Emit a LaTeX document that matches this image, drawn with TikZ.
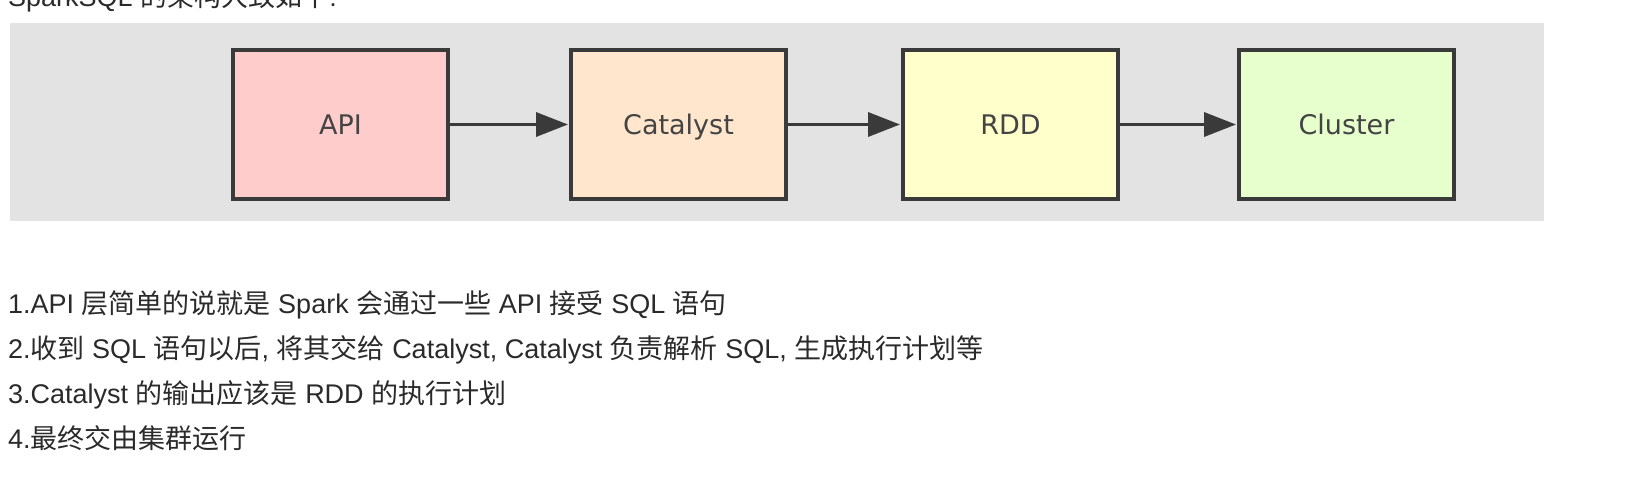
\documentclass[tikz,border=0pt]{standalone}
\usepackage{fontspec}
\setmainfont{Liberation Sans}
\newfontfamily\cjk{Noto Sans CJK SC}
\newfontfamily\boxfont{DejaVu Sans}
\newcommand\zh[1]{{\cjk #1}}
\usetikzlibrary{arrows.meta}
\definecolor{bg}{HTML}{E3E3E3}
\definecolor{edge}{HTML}{3A3A3A}
\definecolor{apic}{HTML}{FFCCCC}
\definecolor{catc}{HTML}{FFE6CC}
\definecolor{rddc}{HTML}{FFFFCC}
\definecolor{cluc}{HTML}{E6FFCC}
\definecolor{txt}{HTML}{2A2A2A}
\definecolor{lbl}{HTML}{444444}
\tikzset{
  stage/.style={draw=edge, line width=4pt, minimum width=215pt, minimum height=149pt,
    inner sep=0pt, text height=19.7pt, text depth=0pt, text=lbl,
    font=\boxfont\fontsize{27}{30}\selectfont},
  flow/.style={draw=edge, line width=3.5pt, -{Triangle[length=32pt,width=24pt]}, shorten >=1pt},
  para/.style={anchor=base west, inner sep=0pt, text=txt, font=\fontsize{27}{30}\selectfont}
}
\begin{document}
\begin{tikzpicture}[x=1pt,y=-1pt]
\useasboundingbox (0,0) rectangle (1632,482);
\clip (0,0) rectangle (1632,482);
\fill[bg] (10,23) rectangle (1544,221);
\node[para] (title) at (8,6) {SparkSQL \zh{的架构大致如下}:};
\node[stage, fill=apic] (api) at (340.5,124.5) {API};
\node[stage, fill=catc] (cat) at (678.5,124.5) {Catalyst};
\node[stage, fill=rddc] (rdd) at (1010.5,124.5) {RDD};
\node[stage, fill=cluc] (clu) at (1346.5,124.5) {Cluster};
\draw[flow] (api) -- (cat);
\draw[flow] (cat) -- (rdd);
\draw[flow] (rdd) -- (clu);
\node[para] (l1) at (8,313) {1.API \zh{层简单的说就是} Spark \zh{会通过一些} API \zh{接受} SQL \zh{语句}};
\node[para] (l2) at (8,358) {2.\zh{收到} SQL \zh{语句以后}, \zh{将其交给} Catalyst, Catalyst \zh{负责解析} SQL, \zh{生成执行计划等}};
\node[para] (l3) at (8,403) {3.Catalyst \zh{的输出应该是} RDD \zh{的执行计划}};
\node[para] (l4) at (8,448) {4.\zh{最终交由集群运行}};
\end{tikzpicture}
\end{document}
